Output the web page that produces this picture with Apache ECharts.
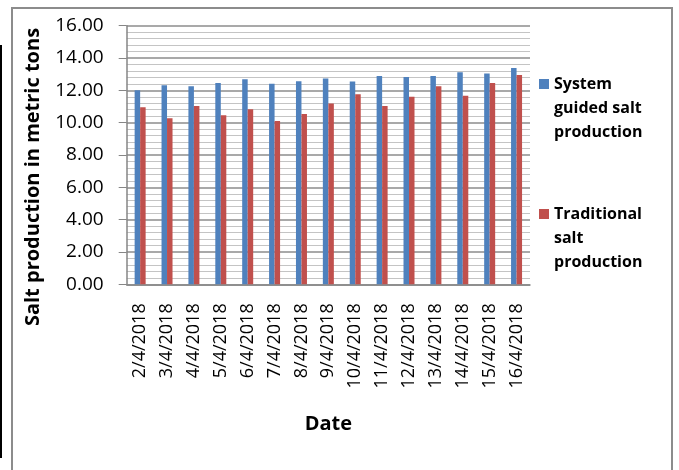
<!DOCTYPE html>
<html>
<head>
<meta charset="utf-8">
<script src="https://cdn.jsdelivr.net/npm/echarts@6/dist/echarts.min.js"></script>
<style>
html,body{margin:0;padding:0;background:#fff;}
#chart{width:679px;height:470px;}
</style>
</head>
<body>
<div id="chart"></div>
<script>
var categories = ['2/4/2018','3/4/2018','4/4/2018','5/4/2018','6/4/2018','7/4/2018','8/4/2018','9/4/2018','10/4/2018','11/4/2018','12/4/2018','13/4/2018','14/4/2018','15/4/2018','16/4/2018'];
var systemGuided = [12.00, 12.31, 12.25, 12.46, 12.68, 12.41, 12.56, 12.74, 12.54, 12.89, 12.83, 12.89, 13.12, 13.04, 13.38];
var traditional = [10.95, 10.27, 11.03, 10.46, 10.83, 10.10, 10.54, 11.18, 11.76, 11.03, 11.61, 12.25, 11.67, 12.46, 12.95];
var seriesNames = ['System guided salt production', 'Traditional salt production'];
var legendLabels = ['\n\nSystem\nguided salt\nproduction', '\n\nTraditional\nsalt\nproduction'];
var yTitle = 'Salt production in metric tons';
var xTitle = 'Date';

var chart = echarts.init(document.getElementById('chart'), null, {renderer: 'canvas'});
var font = '"Open Sans", "Noto Sans", sans-serif';
function legendCfg(i, top) {
  return {
    data: [seriesNames[i]],
    left: 539, top: top,
    padding: 0,
    orient: 'vertical',
    itemWidth: 10, itemHeight: 10, itemGap: 0, icon: 'rect',
    selectedMode: false,
    formatter: function () { return legendLabels[i]; },
    textStyle: {fontFamily: font, fontWeight: 'bold', fontSize: 16, lineHeight: 24, color: '#000'}
  };
}
chart.setOption({
  animation: false,
  backgroundColor: '#fff',
  textStyle: {fontFamily: font},
  grid: {left: 126.7, right: 149, top: 25.7, bottom: 185.7, containLabel: false},
  legend: [legendCfg(0, 24), legendCfg(1, 154)],
  xAxis: {
    type: 'category',
    data: categories,
    name: xTitle,
    nameLocation: 'middle',
    nameGap: 130,
    nameTextStyle: {fontFamily: font, fontWeight: 'bold', fontSize: 20, color: '#000'},
    axisLine: {lineStyle: {color: '#868686', width: 1.5}},
    axisTick: {show: false},
    axisLabel: {rotate: 90, margin: 19, fontFamily: font, fontSize: 18, color: '#000', interval: 0}
  },
  yAxis: {
    type: 'value',
    min: 0, max: 16, interval: 2,
    axisLine: {show: true, lineStyle: {color: '#868686', width: 1.5}},
    axisTick: {show: true, length: 8, lineStyle: {color: '#868686'}},
    minorTick: {show: false, splitNumber: 5},
    axisLabel: {margin: 23, fontFamily: font, fontSize: 19, color: '#000', formatter: function (v) { return v.toFixed(2); }},
    splitLine: {show: true, lineStyle: {color: '#8c8c8c', width: 1.5}},
    minorSplitLine: {show: true, lineStyle: {color: '#c4c4c4', width: 1.2}}
  },
  series: [
    {name: seriesNames[0], type: 'bar', data: systemGuided, barWidth: 5.5, barGap: '0%', itemStyle: {color: '#4F81BD'}},
    {name: seriesNames[1], type: 'bar', data: traditional, barWidth: 5.5, barGap: '0%', itemStyle: {color: '#C0504D'}}
  ],
  graphic: [
    {type: 'rect', shape: {x: 12, y: 8, width: 660, height: 480}, style: {fill: null, stroke: '#8c8c8c', lineWidth: 2}, silent: true},
    {type: 'rect', shape: {x: 0, y: 45, width: 2, height: 413}, style: {fill: '#000'}, silent: true},
    {type: 'text', x: 33, y: 177, rotation: Math.PI / 2, style: {text: yTitle, fontFamily: font, fontWeight: 'bold', fontSize: 20, fill: '#000', align: 'center', verticalAlign: 'middle'}, silent: true}
  ]
});
</script>
</body>
</html>
